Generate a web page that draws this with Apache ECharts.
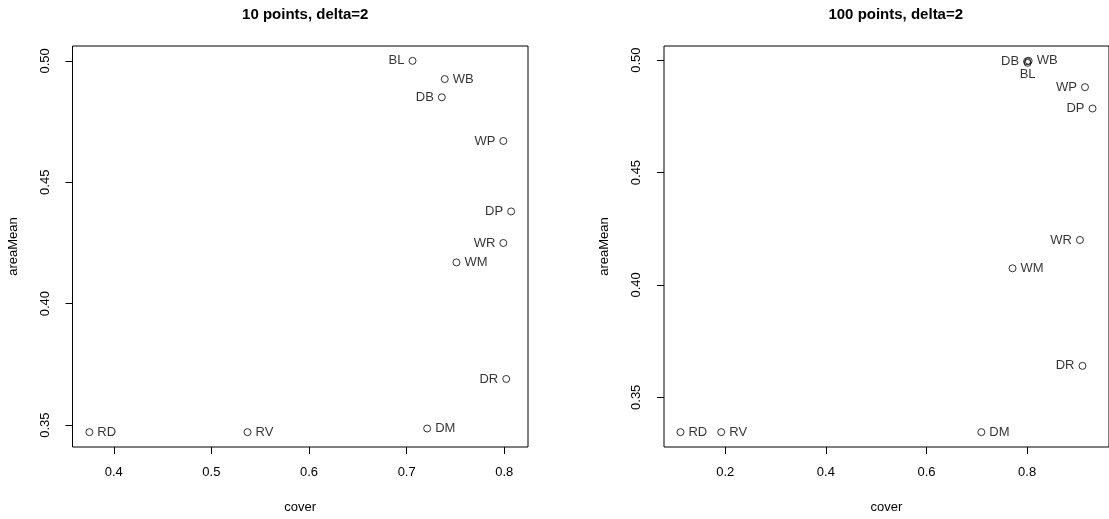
<!DOCTYPE html>
<html>
<head>
<meta charset="utf-8">
<script src="https://cdn.jsdelivr.net/npm/echarts@6/dist/echarts.min.js"></script>
<style>
html,body{margin:0;padding:0;background:#fff;}
#chart{width:1109px;height:519px;}
</style>
</head>
<body>
<div id="chart"></div>
<script>
// ---- data ----
const pointNames = ['BL','WB','DB','WP','DP','WR','WM','DR','DM','RD','RV'];
const cover10 = [0.706, 0.739, 0.736, 0.799, 0.807, 0.799, 0.751, 0.802, 0.721, 0.375, 0.537];
const area10  = [0.500, 0.4925, 0.485, 0.467, 0.438, 0.425, 0.417, 0.369, 0.3486, 0.3471, 0.3471];
const cover100 = [0.801, 0.803, 0.800, 0.915, 0.930, 0.905, 0.771, 0.910, 0.709, 0.111, 0.192];
const area100  = [0.4988, 0.4997, 0.4995, 0.488, 0.4785, 0.420, 0.4074, 0.364, 0.3345, 0.3345, 0.3345];
const titles = ['10 points, delta=2', '100 points, delta=2'];
const xName = 'cover', yName = 'areaMean';
const xTicks10 = [0.4, 0.5, 0.6, 0.7, 0.8];
const xTicks100 = [0.2, 0.4, 0.6, 0.8];
const yTicks10 = [0.35, 0.40, 0.45, 0.50];
const yTicks100 = [0.35, 0.40, 0.45, 0.50];

// label side for each point (R text pos)
const side10  = ['left','right','left','left','left','left','right','left','right','right','right'];
const side100 = ['bottom','right','left','left','left','left','right','left','right','right','right'];

function rRange(a){ const mn=Math.min(...a), mx=Math.max(...a), d=(mx-mn)*0.04; return [mn-d, mx+d]; }

const FONT = 'Liberation Sans, Arial, Helvetica, sans-serif';
const grids = [
  {left:72.5, top:46, width:455.5, height:403},
  {left:664, top:46, width:453.5, height:403}
];

function makeAxes(i, xs, ys, xt, yt){
  const xr = rRange(xs), yr = rRange(ys);
  const xAxis = {
    gridIndex:i, type:'value', min:xr[0], max:xr[1],
    axisLine:{show:false}, splitLine:{show:false},
    axisTick:{show:true, length:7, lineStyle:{color:'#000', width:1}, customValues:xt},
    axisLabel:{customValues:xt, formatter:v=>Number(v).toFixed(1), margin:19, fontSize:13, color:'#000', fontFamily:FONT},
    name:xName, nameLocation:'middle', nameGap:54,
    nameTextStyle:{fontSize:13, color:'#000', fontFamily:FONT}
  };
  const yAxis = {
    gridIndex:i, type:'value', min:yr[0], max:yr[1],
    axisLine:{show:false}, splitLine:{show:false},
    axisTick:{show:true, length:7, lineStyle:{color:'#000', width:1}, customValues:yt},
    axisLabel:{customValues:yt, formatter:v=>Number(v).toFixed(2), rotate:90, margin:21, fontSize:13, color:'#000', fontFamily:FONT},
    name:yName, nameLocation:'middle', nameGap:53,
    nameTextStyle:{fontSize:13, color:'#000', fontFamily:FONT}
  };
  return [xAxis, yAxis];
}

function makeSeries(i, xs, ys, sides){
  return {
    type:'scatter', xAxisIndex:i, yAxisIndex:i,
    symbol:'circle', symbolSize:7,
    itemStyle:{color:'rgba(0,0,0,0)', borderColor:'#000', borderWidth:1},
    data: xs.map((x,k)=>({
      value:[x, ys[k]], name:pointNames[k],
      label:{show:true, position:sides[k], distance: sides[k]==='bottom'?1:4, formatter:pointNames[k],
             fontSize:13, color:'#000', fontFamily:FONT}
    })),
    emphasis:{disabled:true}, silent:true
  };
}

const a0 = makeAxes(0, cover10, area10, xTicks10, yTicks10);
const a1 = makeAxes(1, cover100, area100, xTicks100, yTicks100);

const option = {
  animation:false,
  backgroundColor:'#fff',
  title: titles.map((t,i)=>({
    text:t, left: grids[i].left + grids[i].width/2, top:2, textAlign:'center',
    textStyle:{fontSize:15, fontWeight:'bold', color:'#000', fontFamily:FONT}
  })),
  grid: grids.map(g=>Object.assign({show:true, borderColor:'#000', borderWidth:1, backgroundColor:'rgba(0,0,0,0)'}, g)),
  xAxis:[a0[0], a1[0]],
  yAxis:[a0[1], a1[1]],
  series:[makeSeries(0, cover10, area10, side10), makeSeries(1, cover100, area100, side100)]
};

const chart = echarts.init(document.getElementById('chart'), null, {renderer:'canvas'});
chart.setOption(option);
</script>
</body>
</html>
